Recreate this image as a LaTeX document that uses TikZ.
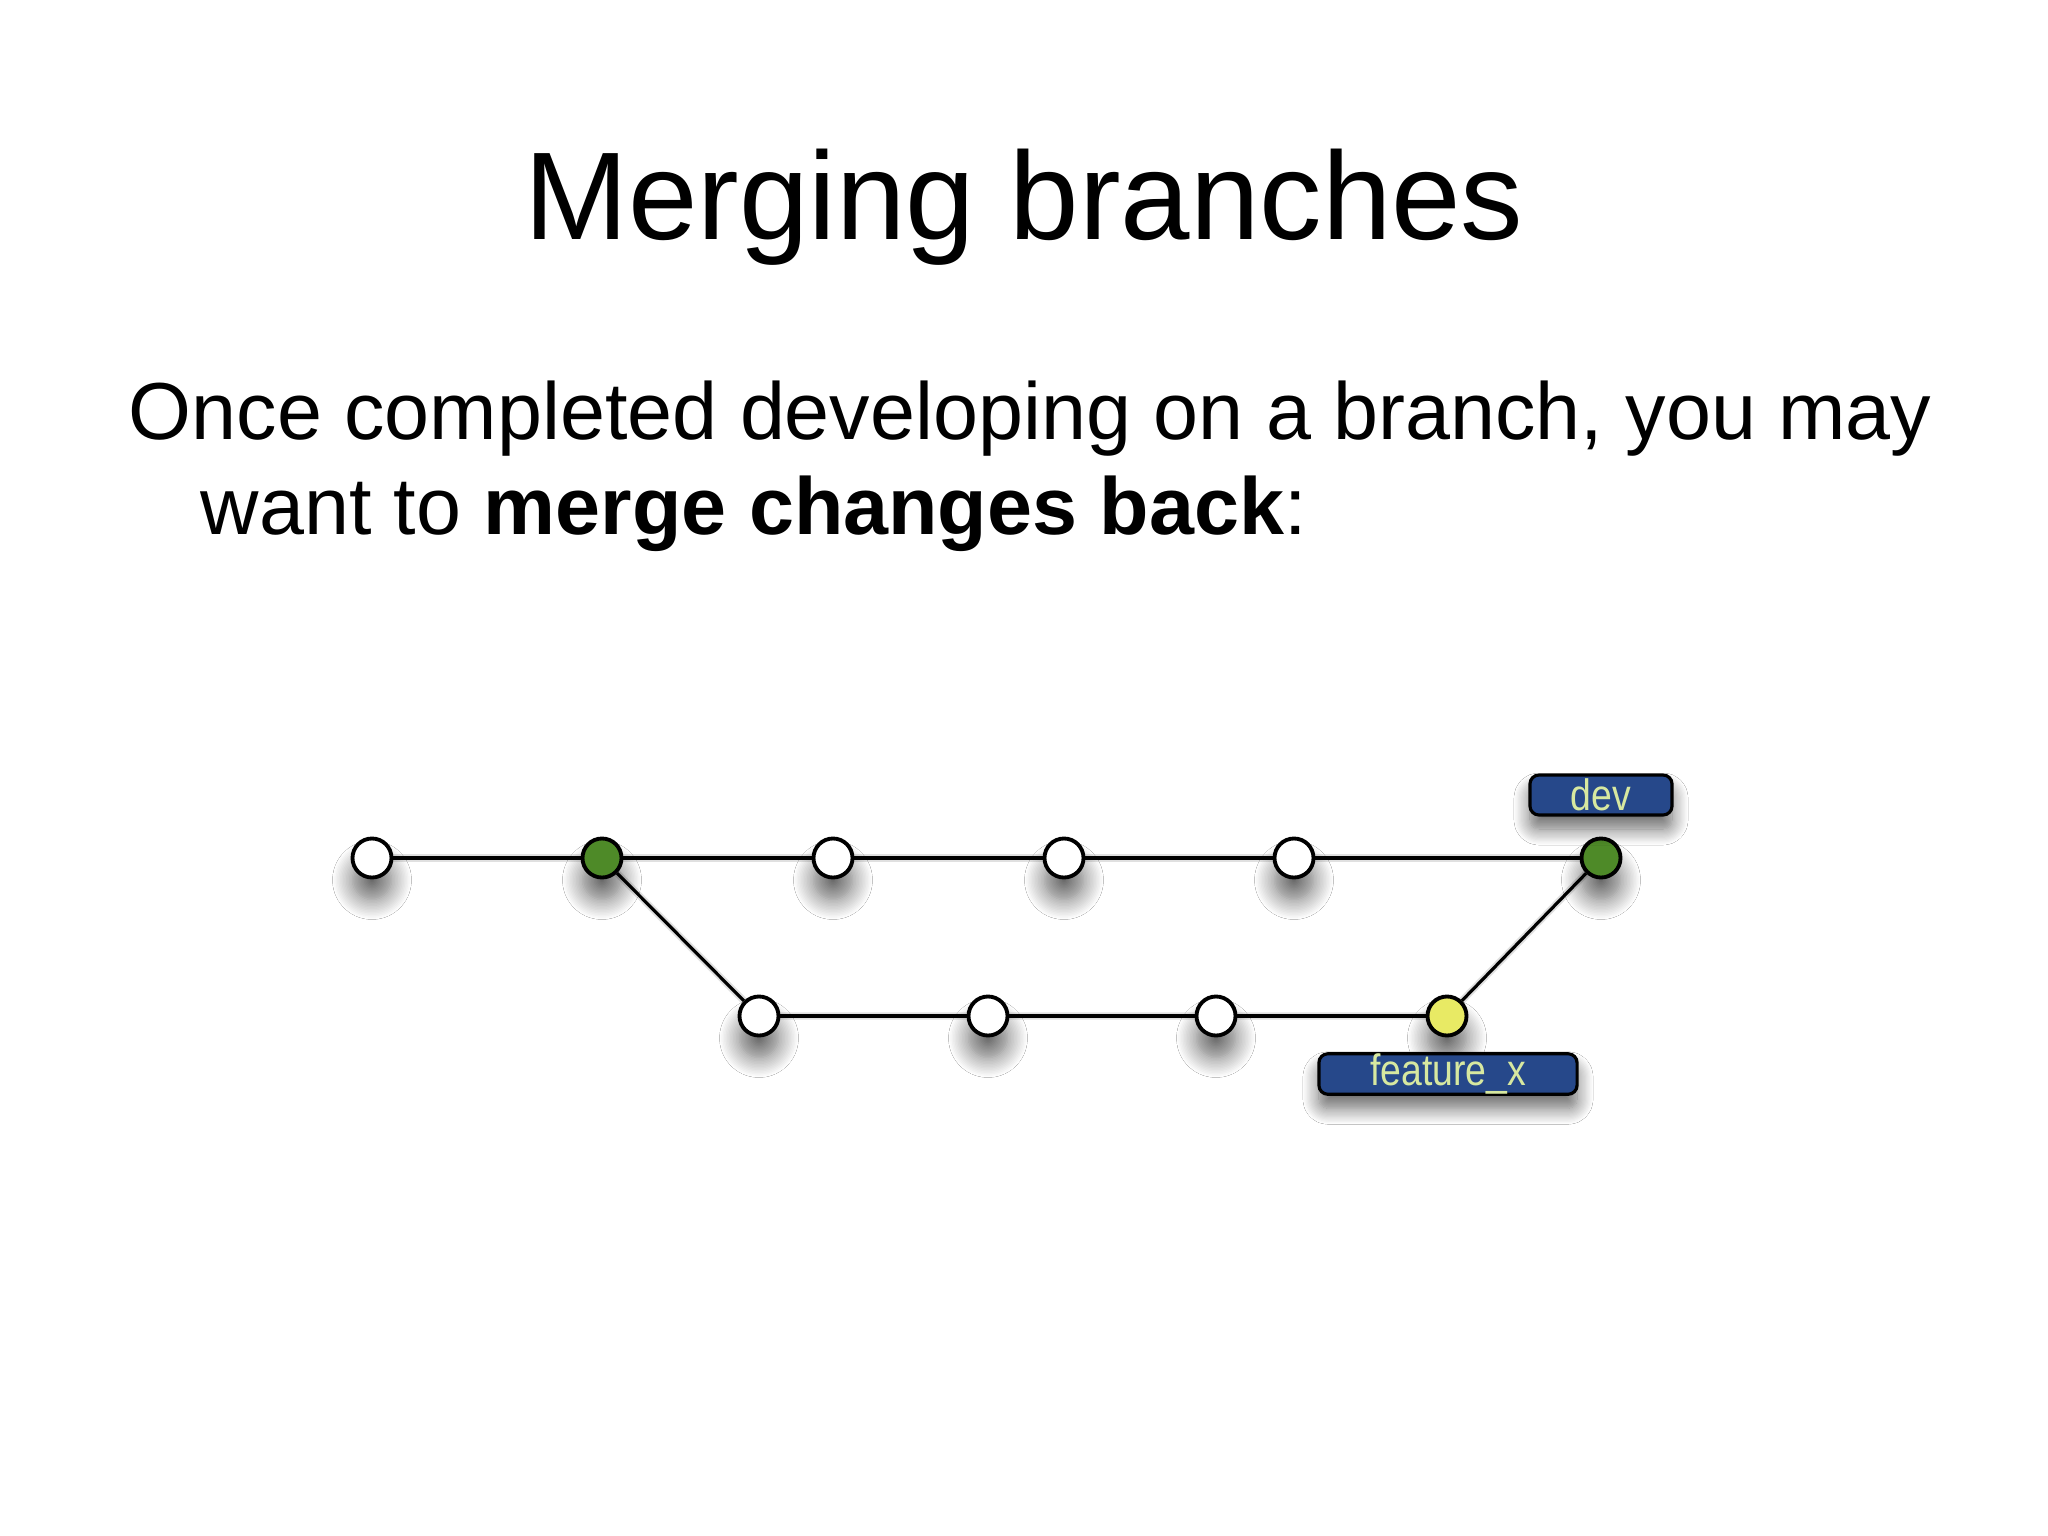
\documentclass[tikz,border=0pt]{standalone}
\usepackage{fontspec}
\setmainfont{Liberation Sans}
\newfontfamily\labelfont[FakeStretch=0.85]{Liberation Sans}
\usetikzlibrary{shadows.blur}
\definecolor{commitgreen}{RGB}{78,138,40}
\definecolor{commityellow}{RGB}{232,234,100}
\definecolor{labelblue}{RGB}{38,72,138}
\definecolor{labeltext}{RGB}{215,232,160}
\tikzset{
  commit/.style={circle, draw=black, line width=1.1pt, fill=white, minimum size=0.39cm, inner sep=0pt,
    blur shadow={shadow xshift=0cm, shadow yshift=-0.22cm, shadow blur radius=0.2cm, shadow blur steps=14, shadow opacity=60}},
  branchlabel/.style={rounded corners=0.09cm, draw=black, line width=0.9pt, fill=labelblue,
    text=labeltext, font=\labelfont\fontsize{12.5}{13}\selectfont, inner sep=0pt,
    minimum height=0.40cm,
    blur shadow={shadow xshift=0cm, shadow yshift=-0.14cm, shadow blur radius=0.16cm, shadow blur steps=14, shadow opacity=60}},
  edge/.style={line width=0.9pt, draw=black},
  edgeshadow/.style={line width=2pt, draw=black, opacity=0.12},
  titletext/.style={anchor=base, inner sep=0pt, font=\fontsize{35.5}{40}\selectfont},
  bodytext/.style={anchor=base west, inner sep=0pt, font=\fontsize{23}{27}\selectfont}
}
\begin{document}
\begin{tikzpicture}[x=0.01cm, y=-0.01cm]
\useasboundingbox (0,0) rectangle (2048,1536);
\fill[white] (0,0) rectangle (2048,1536);

\node[titletext] (title) at (1024,239) {Merging branches};
\node[bodytext] (line1) at (128,439) {Once completed developing on a branch, you may};
\node[bodytext] (line2) at (200,534) {want to \textbf{merge changes back}:};

% coordinates for commits
\coordinate (p1) at (372,858);
\coordinate (p2) at (602,858);
\coordinate (p3) at (833,858);
\coordinate (p4) at (1064,858);
\coordinate (p5) at (1294,858);
\coordinate (p6) at (1601,858);
\coordinate (q1) at (759,1016);
\coordinate (q2) at (988,1016);
\coordinate (q3) at (1216,1016);
\coordinate (q4) at (1447,1016);

% edge shadows
\begin{scope}[yshift=-0.05cm]
\draw[edgeshadow] (p1) -- (p6);
\draw[edgeshadow] (p2) -- (q1) -- (q4) -- (p6);
\end{scope}

% commits
\node[commit] (c1) at (p1) {};
\node[commit, fill=commitgreen] (c2) at (p2) {};
\node[commit] (c3) at (p3) {};
\node[commit] (c4) at (p4) {};
\node[commit] (c5) at (p5) {};
\node[commit, fill=commitgreen] (c6) at (p6) {};
\node[commit] (d1) at (q1) {};
\node[commit] (d2) at (q2) {};
\node[commit] (d3) at (q3) {};
\node[commit, fill=commityellow] (d4) at (q4) {};

% edges
\draw[edge] (c1) -- (c2);
\draw[edge] (c2) -- (c3);
\draw[edge] (c3) -- (c4);
\draw[edge] (c4) -- (c5);
\draw[edge] (c5) -- (c6);
\draw[edge] (c2) -- (d1);
\draw[edge] (d1) -- (d2);
\draw[edge] (d2) -- (d3);
\draw[edge] (d3) -- (d4);
\draw[edge] (d4) -- (c6);

% branch labels
\node[branchlabel, minimum width=1.42cm] (dev) at (1601,795) {dev};
\node[branchlabel, minimum width=2.58cm] (feat) at (1448,1074) {feature\_x};
\end{tikzpicture}
\end{document}
